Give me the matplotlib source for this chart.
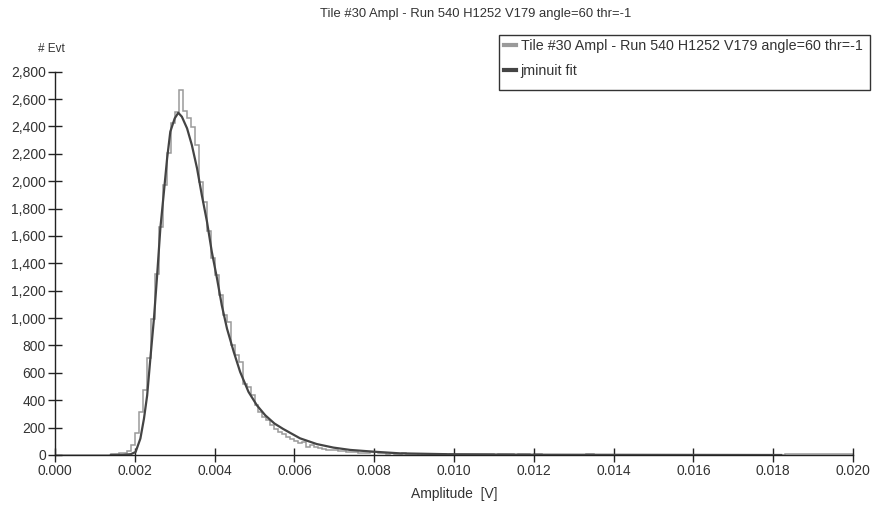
import numpy as np
import matplotlib.pyplot as plt
from matplotlib.lines import Line2D
from matplotlib.patches import Rectangle
from matplotlib.ticker import FuncFormatter, MultipleLocator

plt.rcParams['font.family'] = ['Liberation Sans', 'DejaVu Sans']

title = "Tile #30 Ampl - Run 540 H1252 V179 angle=60 thr=-1"

# histogram: 200 bins of 0.0001 V from 0 to 0.02
bin_width = 0.0001
counts = ([0] * 13 +
          [2, 6, 10, 12, 15, 30, 70, 160, 314, 473,
           709, 997, 1321, 1667, 1972, 2203, 2422, 2508, 2666, 2513,
           2459, 2398, 2264, 1996, 1850, 1638, 1436, 1314, 1167, 1021,
           972, 802, 729, 680, 522, 497, 436, 363, 314, 278,
           254, 217, 190, 165, 150, 130, 115, 105, 85, 95,
           60, 70, 55, 50, 45, 40, 38, 35, 30, 28,
           25, 22, 20, 18, 16, 15, 22, 20, 12, 15,
           10, 14, 10, 8, 12, 6, 5, 4, 3, 7,
           4, 3, 6, 8, 7, 3, 6] +
          [6] * 10 + [3] + [7] * 4 + [2] + [6] * 3 + [2] + [6] * 2 +
          [2] * 11 + [7] * 2 + [1] * 48 + [4] * 16 + [8])
counts = np.array(counts[:200], dtype=float)
edges = np.arange(len(counts) + 1) * bin_width

# fit curve
fit_x = [0.0014, 0.0017, 0.0019, 0.00202, 0.00214, 0.00223, 0.00231, 0.00239,
         0.00248, 0.00256, 0.00264, 0.00273, 0.00281, 0.00289, 0.0030, 0.00309,
         0.00318, 0.00331, 0.00343, 0.00356, 0.00368, 0.00381, 0.00393, 0.00406,
         0.00418, 0.00431, 0.00448, 0.00464, 0.00485, 0.00506, 0.00527, 0.0055,
         0.00572, 0.00614, 0.00656, 0.00698, 0.0074, 0.0080, 0.00865, 0.0100,
         0.0120, 0.0150, 0.0182]
fit_y = [0, 1, 6, 22, 120, 266, 436, 705,
         997, 1314, 1655, 1923, 2167, 2362, 2459, 2500,
         2471, 2386, 2264, 2094, 1898, 1703, 1484, 1290,
         1094, 924, 753, 607, 461, 363, 290, 230,
         190, 122, 80, 54, 37, 24, 12, 5,
         2, 1, 0]

hist_color = '#9a9a9a'
fit_color = '#444444'
text_color = '#333333'

W, H = 872, 505
fig = plt.figure(figsize=(W / 100, H / 100), dpi=100)
ax = fig.add_axes([55 / W, 50 / H, 798 / W, 383.3 / H])

ax.stairs(counts, edges, color=hist_color, linewidth=1.1)
ax.plot(fit_x, fit_y, color=fit_color, linewidth=1.6)

ax.set_xlim(0, 0.02)
ax.set_ylim(0, 2800)
ax.xaxis.set_major_locator(MultipleLocator(0.002))
ax.yaxis.set_major_locator(MultipleLocator(200))
ax.xaxis.set_major_formatter(FuncFormatter(lambda v, p: f"{v:.3f}"))
ax.yaxis.set_major_formatter(FuncFormatter(lambda v, p: f"{int(round(v)):,}"))

for s in ['top', 'right']:
    ax.spines[s].set_visible(False)
for s in ['left', 'bottom']:
    ax.spines[s].set_color('#222222')
    ax.spines[s].set_linewidth(1.0)
    ax.spines[s].set_zorder(1)
ax.tick_params(direction='inout', length=10, width=1, color='#222222',
               labelsize=10, labelcolor=text_color, pad=1.5)

fig.text(476 / W, 1 - 14 / H, title, ha='center', va='center', fontsize=9.4, color=text_color)
fig.text(51 / W, 1 - 49 / H, "# Evt", ha='center', va='center', fontsize=8.5, color=text_color)
fig.text(454 / W, 1 - 494 / H, "Amplitude  [V]", ha='center', va='center', fontsize=10, color=text_color)

# legend box drawn by hand, entries by legend without frame
fig.patches.append(Rectangle((499 / W, 1 - 90 / H), 371 / W, 55 / H,
                             transform=fig.transFigure, facecolor='white',
                             edgecolor='#333333', linewidth=1.0, zorder=5))
handles = [Line2D([0], [0], color=hist_color, linewidth=3),
           Line2D([0], [0], color=fit_color, linewidth=3)]
leg = fig.legend(handles, [title, 'jminuit fit'],
                 loc='upper left', bbox_to_anchor=(500 / W, 1 - 35 / H),
                 fontsize=10.3, frameon=False, handlelength=0.8,
                 handletextpad=0.35, borderpad=0.3, labelspacing=0.75,
                 borderaxespad=0)
leg.set_zorder(6)
for t in leg.get_texts():
    t.set_color(text_color)

fig.savefig('out.png', dpi=100)
